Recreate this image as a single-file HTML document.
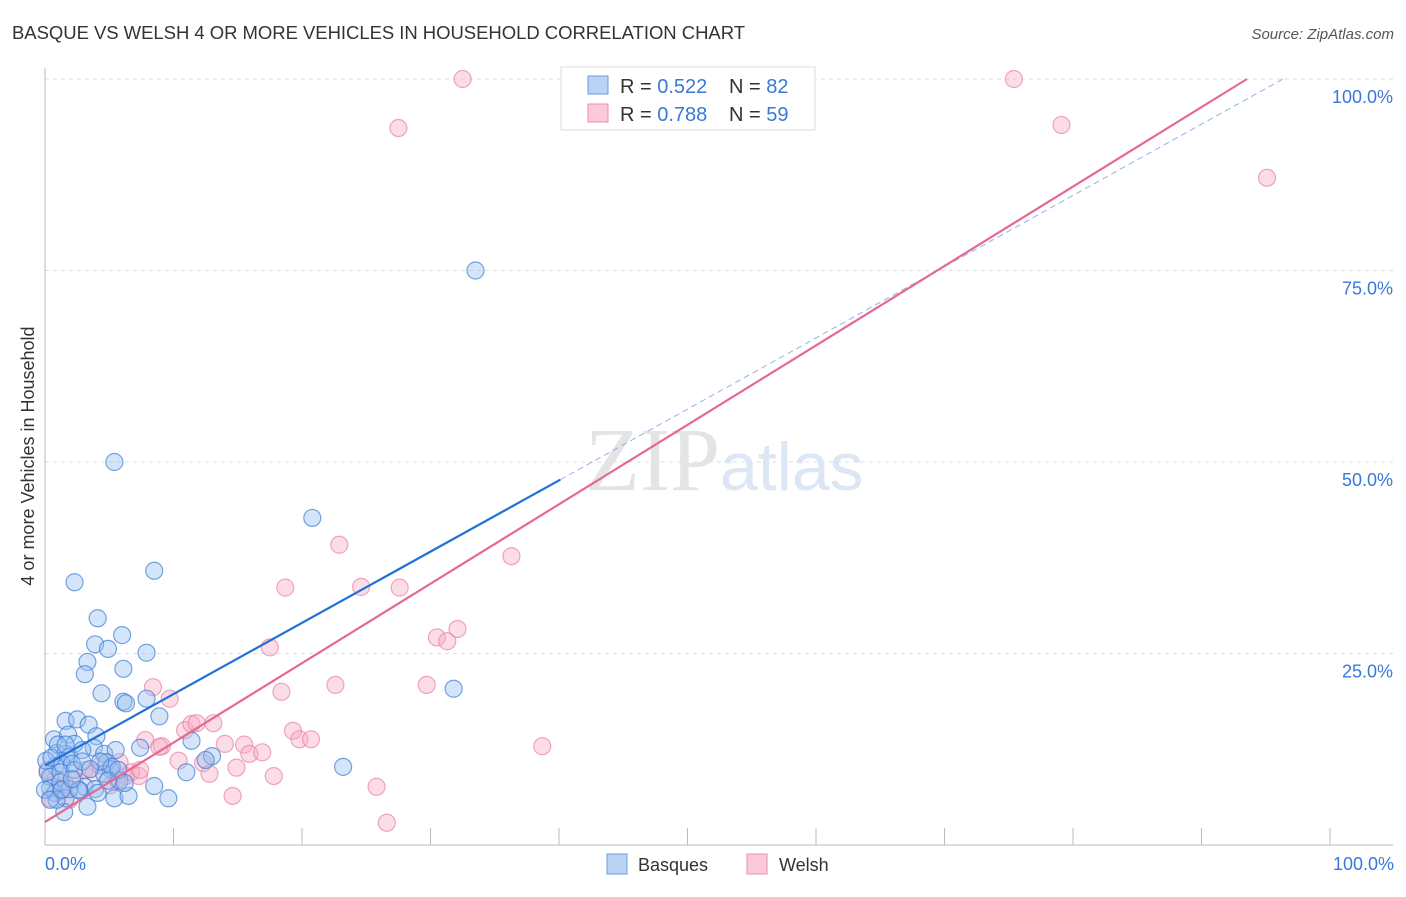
<!DOCTYPE html>
<html><head><meta charset="utf-8"><style>
body{margin:0;background:#fff;font-family:"Liberation Sans",sans-serif;}
</style></head><body>
<svg width="1406" height="892" xmlns="http://www.w3.org/2000/svg" font-family="Liberation Sans, sans-serif">
<text x="12" y="39" font-size="18.5" fill="#333" textLength="733">BASQUE VS WELSH 4 OR MORE VEHICLES IN HOUSEHOLD CORRELATION CHART</text>
<text x="1394" y="39" font-size="15" fill="#555" text-anchor="end" font-style="italic">Source: ZipAtlas.com</text>
<g id="grid"></g>
<text x="720" y="490" font-size="90" fill="#e4e4e4" text-anchor="end" font-family="Liberation Serif, serif">ZIP</text>
<text x="720" y="490" font-size="68" fill="#dce6f5">atlas</text>
<g id="marks"></g>
<text x="34" y="456" font-size="18" fill="#333" transform="rotate(-90 34 456)" text-anchor="middle">4 or more Vehicles in Household</text>
<text x="45" y="870" font-size="18" fill="#3a78d8">0.0%</text>
<text x="1394" y="870" font-size="18" fill="#3a78d8" text-anchor="end">100.0%</text>
<g>
<rect x="561" y="67" width="254" height="63" fill="#fff" stroke="#ddd"/>
<rect x="588" y="76" width="20" height="18" fill="#b9d3f5" stroke="#6b9de0"/>
<rect x="588" y="104" width="20" height="18" fill="#fbc9d9" stroke="#ec8fae"/>
<text x="620" y="93" font-size="20" fill="#333">R = <tspan fill="#3a78d8">0.522</tspan></text>
<text x="729" y="93" font-size="20" fill="#333">N = <tspan fill="#3a78d8">82</tspan></text>
<text x="620" y="121" font-size="20" fill="#333">R = <tspan fill="#3a78d8">0.788</tspan></text>
<text x="729" y="121" font-size="20" fill="#333">N = <tspan fill="#3a78d8">59</tspan></text>
</g>
<g>
<rect x="607" y="854" width="20" height="20" fill="#b9d3f5" stroke="#6b9de0"/>
<text x="638" y="871" font-size="18" fill="#333">Basques</text>
<rect x="747" y="854" width="20" height="20" fill="#fbc9d9" stroke="#ec8fae"/>
<text x="779" y="871" font-size="18" fill="#333">Welsh</text>
</g>
</svg>
<script>
const yTicks=[25,50,75,100];
const yTickLabels=["25.0%","50.0%","75.0%","100.0%"];
const xTicks=[10,20,30,40,50,60,70,80,90,100];
const basqueX=[5.4,20.8,33.5,2.3,8.5,4.1,6.0,3.9,4.9,7.9,3.3,6.1,3.1,4.4,6.1,6.3,7.9,8.9,31.8,1.6,2.5,3.4,0.7,1.8,4.0,11.4,2.3,3.8,0.9,1.6,1.9,2.9,4.6,5.5,13.0,12.5,0.8,1.3,2.1,0.2,0.4,1.2,4.8,5.1,4.6,11.0,23.2,0.4,0.8,3.1,3.9,5.8,8.5,1.6,2.7,5.4,6.5,9.6,3.3,1.5,0.9,2.3,0.0,0.4,1.2,1.9,5.2,4.3,5.7,2.9,1.0,1.6,3.5,7.4,2.6,0.1,0.5,1.3,2.1,4.1,4.9,6.2];
const basqueY=[50.0,42.7,75.0,34.3,35.8,29.6,27.4,26.2,25.6,25.1,23.9,23.0,22.3,19.8,18.7,18.5,19.1,16.8,20.4,16.2,16.4,15.7,13.8,14.4,14.2,13.6,13.2,12.7,12.0,11.9,11.5,12.4,11.9,12.4,11.6,11.1,10.3,10.6,10.6,9.5,8.9,9.5,10.8,9.9,9.3,9.5,10.2,7.4,6.8,7.6,7.3,8.4,7.7,6.1,7.1,6.1,6.4,6.1,5.0,4.3,5.9,9.8,7.2,5.9,8.2,7.3,10.2,10.9,9.8,10.9,13.1,13.1,9.9,12.7,7.2,11.0,11.4,7.2,8.6,6.8,8.4,8.1];
const welshX=[32.5,75.4,27.5,79.1,95.1,36.3,22.9,18.7,24.6,27.6,17.5,30.5,31.3,32.1,8.4,9.7,18.4,22.6,29.7,10.9,11.4,11.8,13.1,19.3,19.8,20.7,38.7,7.8,9.1,8.9,14.0,15.5,15.9,16.9,10.4,12.3,12.8,14.9,17.8,25.8,14.6,26.6,7.3,6.3,5.6,6.7,3.1,3.8,4.3,0.8,1.2,0.4,1.6,2.3,5.1,0.2,7.4,5.8,1.9];
const welshY=[100.0,100.0,93.6,94.0,87.1,37.7,39.2,33.6,33.7,33.6,25.8,27.1,26.6,28.2,20.6,19.1,20.0,20.9,20.9,15.0,15.8,15.9,15.9,14.9,13.8,13.8,12.9,13.7,12.9,12.8,13.2,13.1,11.9,12.1,11.0,10.7,9.3,10.1,9.0,7.6,6.4,2.9,9.0,9.0,8.5,9.5,9.8,9.4,10.4,8.6,7.0,6.1,7.8,8.5,7.8,9.8,9.8,10.8,5.9];
const basqueFit=[10.4,0.93,40.1];
const welshFit=[3.0,1.037];
const X=v=>45+v*12.85, Y=v=>845-v*7.66;
const NS="http://www.w3.org/2000/svg";
const grid=document.getElementById('grid'), marks=document.getElementById('marks');
function mk(tag,attrs,parent){const e=document.createElementNS(NS,tag);for(const k in attrs)e.setAttribute(k,attrs[k]);parent.appendChild(e);return e;}
yTicks.forEach((t,i)=>{
 const l=mk('line',{x1:45,x2:1393,y1:Y(t),y2:Y(t),stroke:'#ddd','stroke-dasharray':'4,4'},grid);
 
 
 const tx=mk('text',{x:1393,y:Y(t)+24,'font-size':18,fill:'#3a78d8','text-anchor':'end'},grid);
 tx.textContent=yTickLabels[i];
 
 
});
const ax=mk('line',{x1:45,x2:1393,y1:845,y2:845,stroke:'#bbb'},grid);


const ay=mk('line',{x1:45,x2:45,y1:68,y2:845,stroke:'#bbb'},grid);


xTicks.forEach(t=>{
 const l=mk('line',{x1:X(t),x2:X(t),y1:828,y2:845,stroke:'#bbb'},grid);
 
 
});
welshX.forEach((x,i)=>{
 const c=mk('circle',{cx:X(x),cy:Y(welshY[i]),r:8.5,fill:'rgba(247,170,195,0.4)',stroke:'rgba(232,130,165,0.7)','stroke-width':1.2},marks);
 
 
});
basqueX.forEach((x,i)=>{
 const c=mk('circle',{cx:X(x),cy:Y(basqueY[i]),r:8.5,fill:'rgba(150,190,240,0.4)',stroke:'rgba(60,125,215,0.7)','stroke-width':1.2},marks);
 
 
});
const bx1=basqueFit[2], bxEnd=(100-basqueFit[0])/basqueFit[1];
const bd=mk('line',{x1:X(bx1),y1:Y(basqueFit[0]+basqueFit[1]*bx1),x2:X(bxEnd),y2:Y(100),stroke:'#8fb3e8','stroke-width':1,'stroke-dasharray':'6,4'},marks);


const bl=mk('line',{x1:X(0),y1:Y(basqueFit[0]),x2:X(bx1),y2:Y(basqueFit[0]+basqueFit[1]*bx1),stroke:'#2170d8','stroke-width':2.2},marks);


const wxEnd=(100-welshFit[0])/welshFit[1];
const wl=mk('line',{x1:X(0),y1:Y(welshFit[0]),x2:X(wxEnd),y2:Y(100),stroke:'#e56a93','stroke-width':2.2},marks);


</script>
</body></html>
